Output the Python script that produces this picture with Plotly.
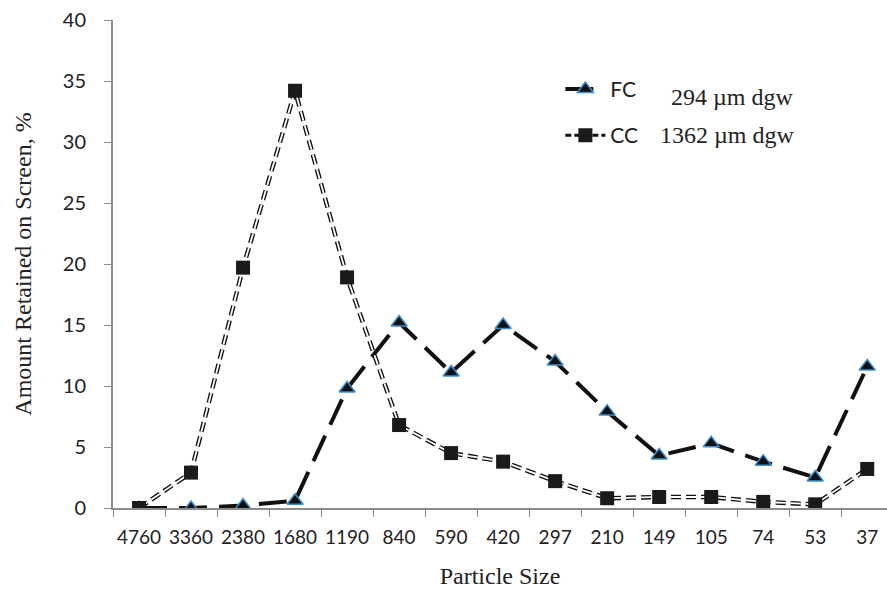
import plotly.graph_objects as go

categories = ["4760", "3360", "2380", "1680", "1190", "840", "590", "420", "297",
              "210", "149", "105", "74", "53", "37"]
fc_values = [0.0, 0.0, 0.2, 0.6, 9.8, 15.2, 11.1, 15.0, 12.0, 7.9, 4.3, 5.3, 3.8, 2.5, 11.6]
cc_values = [0.0, 2.9, 19.7, 34.2, 18.9, 6.8, 4.5, 3.8, 2.2, 0.8, 0.9, 0.9, 0.5, 0.3, 3.2]
y_ticks = [0, 5, 10, 15, 20, 25, 30, 35, 40]
fc_label = "294 µm dgw"
cc_label = "1362 µm dgw"

fig = go.Figure()

fig.add_trace(go.Scatter(
    x=categories, y=fc_values, name="FC", mode="lines+markers",
    line=dict(color="#111111", width=4, dash="28px,12px"),
    marker=dict(symbol="triangle-up", size=14, color="#111111",
                line=dict(color="#3a8fd3", width=1.5)),
    legendgroup="fc",
))
# CC: outlined dashes (black underlay + white core)
fig.add_trace(go.Scatter(
    x=categories, y=cc_values, name="CC", mode="lines",
    line=dict(color="#111111", width=4.5, dash="10px,5px"),
    legendgroup="cc", showlegend=False,
))
fig.add_trace(go.Scatter(
    x=categories, y=cc_values, name="CC", mode="lines",
    line=dict(color="#ffffff", width=1.8, dash="10px,5px"),
    legendgroup="cc", showlegend=False,
))
fig.add_trace(go.Scatter(
    x=categories, y=cc_values, name="CC", mode="markers",
    marker=dict(symbol="square", size=14, color="#1a1a1a"),
    legendgroup="cc", showlegend=False,
))
# legend proxy for CC
fig.add_trace(go.Scatter(
    x=[None], y=[None], name="CC", mode="lines+markers",
    line=dict(color="#111111", width=3, dash="6px,3px"),
    marker=dict(symbol="square", size=14, color="#1a1a1a"),
    legendgroup="cc2",
))

fig.add_annotation(text=fc_label, xref="paper", yref="paper", x=0.718, y=0.842,
                   xanchor="left", yanchor="middle", showarrow=False,
                   font=dict(family="Liberation Serif", size=24, color="#222"))
fig.add_annotation(text=cc_label, xref="paper", yref="paper", x=0.704, y=0.764,
                   xanchor="left", yanchor="middle", showarrow=False,
                   font=dict(family="Liberation Serif", size=24, color="#222"))

fig.update_layout(
    width=887, height=589,
    margin=dict(l=113, r=0, t=20, b=81),
    plot_bgcolor="white", paper_bgcolor="white",
    showlegend=True,
    legend=dict(x=0.578, y=0.9, xanchor="left", yanchor="top",
                font=dict(family="Lato", size=21, color="#222"),
                bgcolor="rgba(0,0,0,0)", tracegroupgap=16,
                itemwidth=40),
    xaxis=dict(
        type="category", range=[-0.5, 14.38],
        showline=True, linecolor="#8c8c8c", linewidth=2,
        ticks="outside", tickson="boundaries", ticklen=7, tickcolor="#8c8c8c",
        tickfont=dict(family="Lato", size=19, color="#222"),
        tickangle=0, ticklabelstandoff=11, automargin=False,
        showgrid=False, zeroline=False,
        title=dict(text="Particle Size", font=dict(family="Liberation Serif", size=24, color="#222"),
                   standoff=22),
    ),
    yaxis=dict(
        range=[0, 40], tickvals=y_ticks,
        showline=True, linecolor="#8c8c8c", linewidth=2,
        ticks="outside", ticklen=7, tickcolor="#8c8c8c",
        tickfont=dict(family="Lato", size=20, color="#222"),
        ticklabelstandoff=14, automargin=False,
        showgrid=False, zeroline=False,
        title=dict(text="Amount Retained on Screen, %",
                   font=dict(family="Liberation Serif", size=24, color="#222"), standoff=24),
    ),
)

fig.write_html("out.html")
